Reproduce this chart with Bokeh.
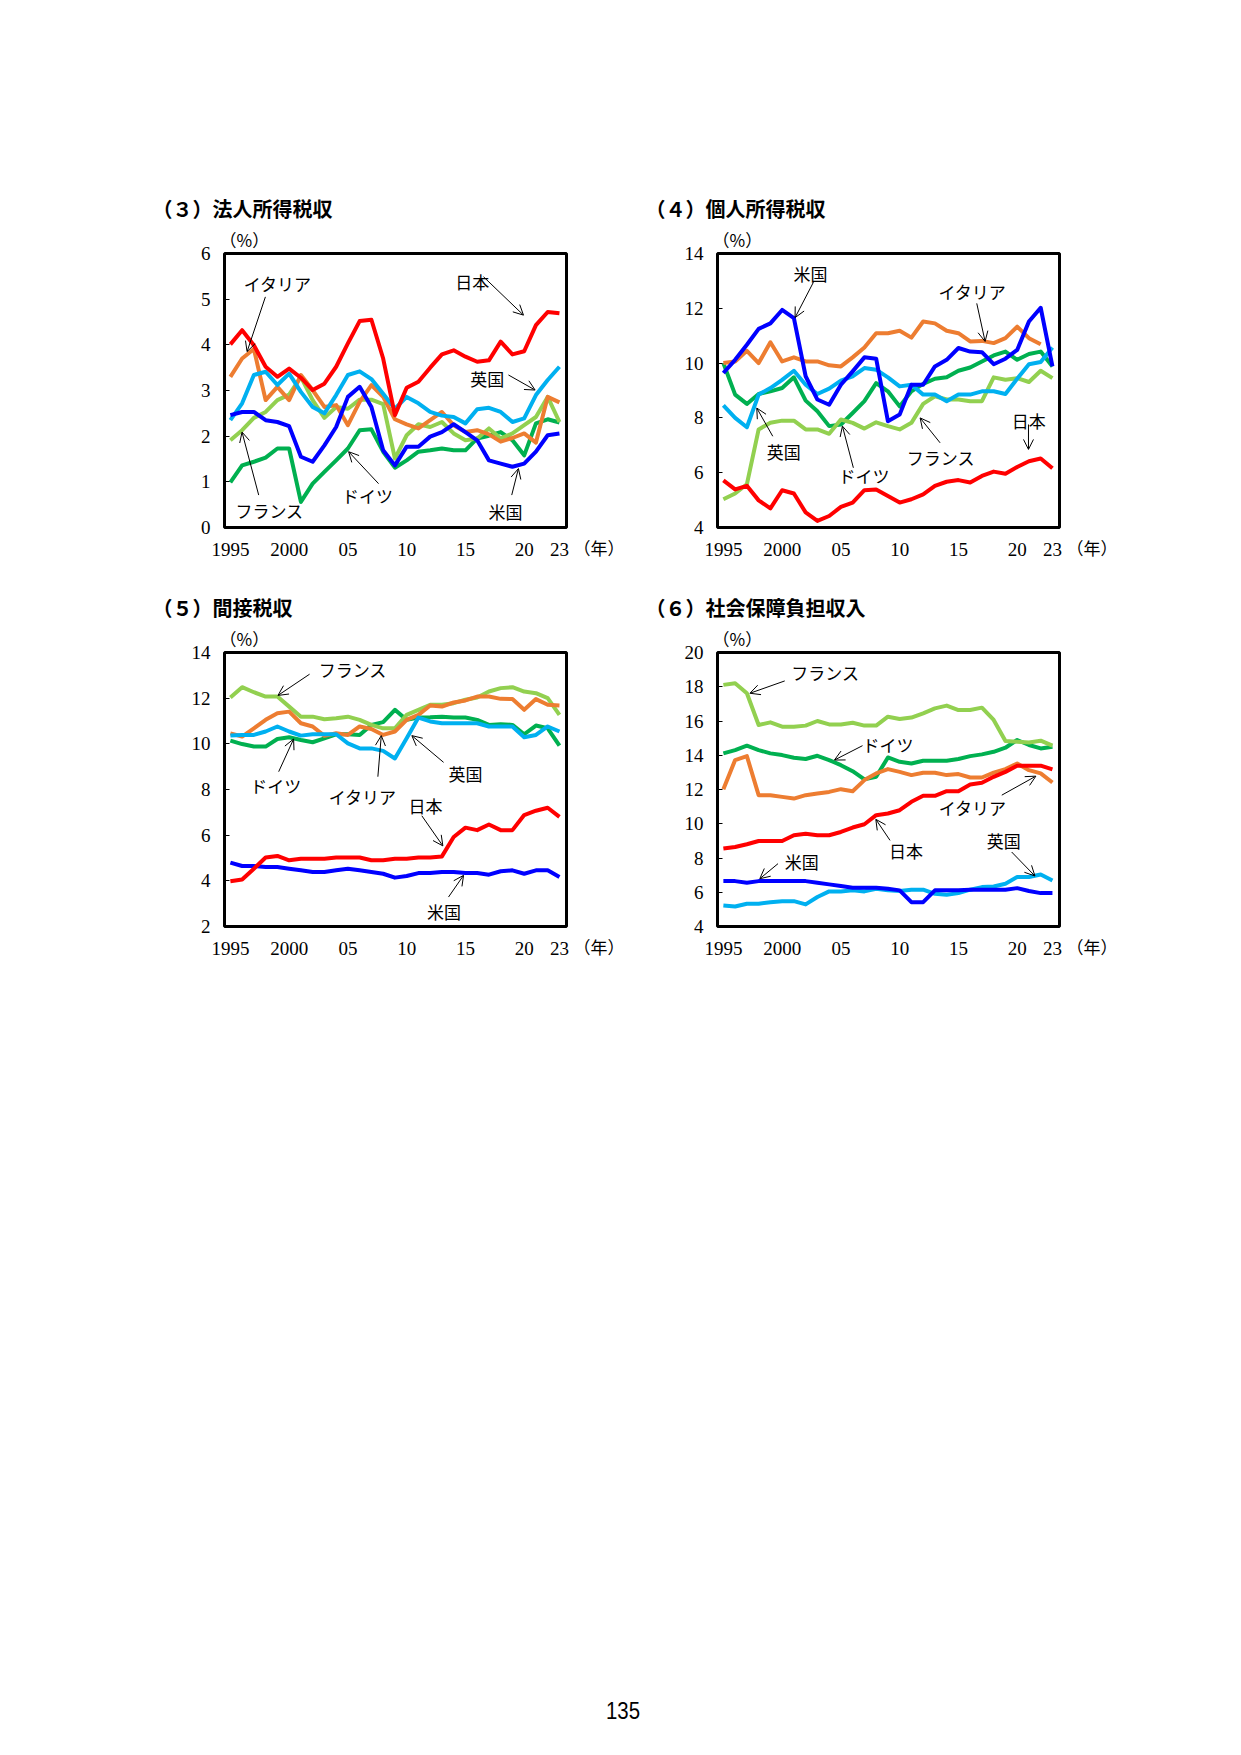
from bokeh.plotting import figure
from bokeh.models import Range1d, FixedTicker, Label, Arrow, OpenHead, Spacer, Div, Title, LinearAxis
from bokeh.layouts import row, column
from bokeh.embed import file_html
from bokeh.resources import INLINE

NAN = float("nan")
years = list(range(1995, 2024))
x_ticks = [1995, 2000, 2005, 2010, 2015, 2020, 2023]
x_tick_labels = ["1995", "2000", "05", "10", "15", "20", "23"]
countries = ["ドイツ", "フランス", "イタリア", "英国", "米国", "日本"]

# (3) 法人所得税収
corp_jp = [4.01, 4.32, 3.99, 3.52, 3.30, 3.48, 3.28, 3.01, 3.15, 3.52, 4.03, 4.52, 4.55, 3.70, 2.46,
           3.06, 3.19, 3.50, 3.79, 3.88, 3.74, 3.63, 3.66, 4.07, 3.79, 3.86, 4.43, 4.72, 4.69]
corp_us = [2.46, 2.53, 2.53, 2.35, 2.31, 2.22, 1.55, 1.44, 1.80, 2.20, 2.86, 3.08, 2.64, 1.69, 1.36,
           1.77, 1.77, 1.99, 2.09, 2.26, 2.09, 1.91, 1.47, 1.40, 1.33, 1.40, 1.66, 2.02, 2.06]
corp_uk = [2.35, 2.72, 3.34, 3.41, 3.12, 3.37, 2.97, 2.64, 2.50, 2.90, 3.34, 3.42, 3.25, 2.93, 2.60,
           2.86, 2.72, 2.53, 2.45, 2.42, 2.28, 2.59, 2.62, 2.53, 2.31, 2.39, 2.90, 3.23, 3.52]
corp_it = [3.30, 3.70, 3.91, 2.79, 3.08, 2.79, 3.34, 3.01, 2.64, 2.68, 2.24, 2.75, 3.12, 2.86, 2.37,
           2.26, 2.17, 2.35, 2.53, 2.24, 2.09, 2.13, 2.04, 1.88, 1.96, 2.06, 1.86, 2.86, 2.74]
corp_fr = [1.91, 2.13, 2.40, 2.53, 2.79, 2.91, 3.30, 2.79, 2.40, 2.64, 2.60, 2.80, 2.80, 2.70, 1.51,
           2.02, 2.26, 2.20, 2.31, 2.06, 1.91, 1.95, 2.17, 1.95, 2.06, 2.24, 2.42, 2.86, 2.31]
corp_de = [0.99, 1.36, 1.44, 1.53, 1.73, 1.73, 0.56, 0.96, 1.22, 1.47, 1.73, 2.13, 2.15, 1.66, 1.31,
           1.47, 1.66, 1.69, 1.73, 1.69, 1.69, 1.95, 2.01, 2.09, 1.91, 1.58, 2.28, 2.37, 2.30]

# (4) 個人所得税収
inc_jp = [5.72, 5.39, 5.52, 4.99, 4.70, 5.36, 5.24, 4.55, 4.24, 4.42, 4.75, 4.91, 5.36, 5.39, 5.15,
          4.91, 5.03, 5.21, 5.52, 5.67, 5.73, 5.64, 5.88, 6.04, 5.96, 6.21, 6.42, 6.52, 6.16]
inc_us = [9.64, 10.12, 10.67, 11.25, 11.45, 11.94, 11.64, 9.52, 8.67, 8.48, 9.21, 9.70, 10.21, 10.16, 7.88,
          8.12, 9.21, 9.21, 9.88, 10.12, 10.55, 10.42, 10.40, 9.96, 10.16, 10.48, 11.52, 12.02, 9.88]
inc_it = [10.00, 10.06, 10.45, 10.00, 10.76, 10.06, 10.21, 10.06, 10.06, 9.92, 9.88, 10.21, 10.57, 11.09, 11.09,
          11.18, 10.93, 11.52, 11.45, 11.18, 11.09, 10.79, 10.81, 10.73, 10.91, 11.33, 10.91, 10.69, NAN]
inc_uk = [8.46, 8.00, 7.66, 8.85, 9.09, 9.39, 9.72, 9.21, 8.87, 9.07, 9.36, 9.52, 9.82, 9.76, 9.48,
          9.15, 9.21, 8.85, 8.85, 8.61, 8.85, 8.85, 8.97, 8.97, 8.87, 9.43, 9.96, 10.04, 10.57]
inc_de = [10.00, 8.85, 8.51, 8.87, 8.97, 9.09, 9.48, 8.63, 8.24, 7.70, 7.76, 8.18, 8.61, 9.27, 8.97,
          8.42, 8.97, 9.24, 9.43, 9.48, 9.72, 9.84, 10.06, 10.28, 10.42, 10.12, 10.33, 10.42, 9.88]
inc_fr = [5.03, 5.24, 5.58, 7.58, 7.82, 7.90, 7.90, 7.58, 7.58, 7.42, 7.94, 7.82, 7.61, 7.84, 7.70,
          7.58, 7.82, 8.51, 8.79, 8.67, 8.67, 8.61, 8.61, 9.48, 9.39, 9.45, 9.31, 9.72, 9.45]

# (5) 間接税収
ind_jp = [3.98, 4.06, 4.53, 5.02, 5.09, 4.90, 4.97, 4.97, 4.97, 5.02, 5.02, 5.02, 4.90, 4.90, 4.97,
          4.97, 5.02, 5.02, 5.07, 5.92, 6.33, 6.22, 6.47, 6.22, 6.22, 6.88, 7.07, 7.20, 6.80]
ind_us = [4.80, 4.65, 4.65, 4.61, 4.61, 4.53, 4.46, 4.39, 4.39, 4.46, 4.53, 4.46, 4.39, 4.31, 4.14,
          4.21, 4.34, 4.34, 4.39, 4.39, 4.34, 4.34, 4.27, 4.42, 4.46, 4.31, 4.46, 4.46, 4.17]
ind_uk = [10.36, 10.39, 10.39, 10.54, 10.76, 10.54, 10.36, 10.42, 10.42, 10.42, 10.02, 9.80, 9.80, 9.69, 9.36,
          10.24, 11.15, 10.98, 10.90, 10.90, 10.90, 10.90, 10.76, 10.76, 10.76, 10.29, 10.39, 10.76, 10.54]
ind_it = [10.46, 10.32, 10.68, 11.05, 11.34, 11.41, 10.90, 10.76, 10.35, 10.46, 10.39, 10.76, 10.65, 10.39, 10.54,
          11.05, 11.27, 11.68, 11.63, 11.81, 11.90, 12.07, 12.07, 11.97, 11.96, 11.49, 11.96, 11.71, 11.68]
ind_fr = [12.03, 12.48, 12.26, 12.07, 12.07, 11.63, 11.19, 11.19, 11.08, 11.12, 11.19, 11.05, 10.83, 10.68, 10.68,
          11.27, 11.49, 11.71, 11.71, 11.78, 11.93, 12.03, 12.29, 12.44, 12.48, 12.29, 12.22, 12.00, 11.27]
ind_de = [10.14, 9.99, 9.88, 9.88, 10.21, 10.29, 10.17, 10.07, 10.24, 10.42, 10.42, 10.39, 10.83, 10.95, 11.49,
          11.05, 11.15, 11.16, 11.19, 11.15, 11.15, 11.05, 10.83, 10.86, 10.83, 10.42, 10.80, 10.68, 9.92]

# (6) 社会保障負担収入
ss_jp = [8.55, 8.64, 8.80, 8.99, 8.99, 8.99, 9.33, 9.42, 9.33, 9.33, 9.52, 9.78, 9.97, 10.50, 10.60,
         10.79, 11.28, 11.63, 11.63, 11.90, 11.90, 12.29, 12.39, 12.74, 13.03, 13.39, 13.39, 13.39, 13.17]
ss_us = [6.65, 6.65, 6.56, 6.65, 6.65, 6.65, 6.65, 6.65, 6.56, 6.46, 6.36, 6.26, 6.26, 6.26, 6.20,
         6.11, 5.42, 5.42, 6.11, 6.11, 6.11, 6.15, 6.15, 6.15, 6.15, 6.24, 6.07, 5.95, 5.95]
ss_uk = [5.23, 5.17, 5.33, 5.33, 5.42, 5.48, 5.48, 5.29, 5.72, 6.05, 6.05, 6.11, 6.05, 6.20, 6.11,
         6.07, 6.15, 6.15, 5.91, 5.85, 5.95, 6.15, 6.30, 6.34, 6.50, 6.89, 6.89, 7.04, 6.69]
ss_it = [12.02, 13.72, 13.95, 11.67, 11.67, 11.57, 11.47, 11.67, 11.77, 11.86, 12.02, 11.90, 12.55, 12.94, 13.19,
         13.03, 12.84, 12.98, 12.98, 12.84, 12.90, 12.70, 12.70, 12.98, 13.19, 13.52, 13.13, 12.94, 12.41]
ss_fr = [18.11, 18.20, 17.62, 15.77, 15.92, 15.67, 15.67, 15.73, 16.00, 15.80, 15.80, 15.90, 15.73, 15.73, 16.25,
         16.12, 16.20, 16.45, 16.74, 16.90, 16.64, 16.64, 16.78, 16.06, 14.83, 14.79, 14.75, 14.85, 14.56]
ss_de = [14.11, 14.30, 14.56, 14.30, 14.11, 14.01, 13.85, 13.78, 13.97, 13.72, 13.42, 13.07, 12.59, 12.74, 13.87,
         13.62, 13.52, 13.68, 13.68, 13.68, 13.78, 13.95, 14.05, 14.20, 14.44, 14.89, 14.60, 14.40, 14.50]

COLORS = {"日本": "#FF0000", "米国": "#0000FF", "英国": "#00B0F0",
          "イタリア": "#ED7D31", "フランス": "#92D050", "ドイツ": "#00B050"}

SERIF = "Liberation Serif"
JP = "Noto Sans CJK JP"
FW, FH = 342, 274
XR = (1994.5, 2023.6)
TOP = 68


def make_panel(title, ymin, ymax, ystep, series, notes, bottom):
    p = figure(width=74 + FW + 74, height=TOP + FH + bottom,
               x_range=Range1d(*XR), y_range=Range1d(ymin, ymax),
               output_backend="svg", toolbar_location=None, title=None,
               min_border_left=74, min_border_right=74,
               min_border_top=TOP, min_border_bottom=bottom)
    p.title = None
    p.background_fill_color = "white"
    p.border_fill_color = "white"
    p.outline_line_color = "black"
    p.outline_line_width = 3
    p.xgrid.visible = False
    p.ygrid.visible = False

    p.xaxis.ticker = FixedTicker(ticks=x_ticks)
    p.xaxis.major_label_overrides = {t: l for t, l in zip(x_ticks, x_tick_labels)}
    p.xaxis.major_tick_line_color = None
    p.xaxis.minor_tick_line_color = None
    p.xaxis.axis_line_color = None
    p.xaxis.major_label_standoff = 9
    p.yaxis.ticker = FixedTicker(ticks=list(range(ymin, ymax + 1, ystep)))
    p.yaxis.major_tick_in = 5
    p.yaxis.major_tick_out = 0
    p.yaxis.minor_tick_line_color = None
    p.yaxis.axis_line_color = None
    p.yaxis.major_label_standoff = 14
    for ax in (p.xaxis, p.yaxis):
        ax.major_label_text_font = SERIF
        ax.major_label_text_font_size = "19px"
        ax.major_label_text_color = "black"

    # "(年)" unit label: auxiliary right axis with a single tick at the bottom edge
    p.extra_y_ranges = {"unit": Range1d(0, 1)}
    unit_axis = LinearAxis(y_range_name="unit", ticker=FixedTicker(ticks=[0]),
                           major_label_overrides={0: " \n（年）"},
                           major_label_text_baseline="top",
                           major_label_text_line_height=1.6,
                           major_tick_line_color=None, minor_tick_line_color=None,
                           axis_line_color=None, major_label_standoff=1,
                           major_label_text_font=JP, major_label_text_font_size="17px",
                           major_label_text_color="black")
    p.add_layout(unit_axis, "right")

    for name in countries:
        p.line(years, series[name], line_color=COLORS[name], line_width=4, line_join="round")

    for text, tx, ty, (ax0, ay0, ax1, ay1) in notes:
        p.add_layout(Label(x=tx, y=ty, text=text, text_font=JP, text_font_size="17px",
                           text_baseline="middle", text_align="left", text_color="black"))
        p.add_layout(Arrow(x_start=ax0, y_start=ay0, x_end=ax1, y_end=ay1,
                           line_width=1, line_color="black",
                           end=OpenHead(size=10, line_width=1, line_color="black")))

    p.add_layout(Title(text="（%）", align="left", offset=-5, standoff=4,
                       text_font=JP, text_font_size="17px", text_font_style="normal",
                       text_color="black"), "above")
    p.add_layout(Title(text=title, align="left", offset=-72, standoff=0,
                       text_font=JP, text_font_size="20px", text_font_style="bold",
                       text_color="black"), "above")
    return p


p3 = make_panel("（３）法人所得税収", 0, 6, 1,
                {"日本": corp_jp, "米国": corp_us, "英国": corp_uk, "イタリア": corp_it,
                 "フランス": corp_fr, "ドイツ": corp_de},
                [("イタリア", 1996.13, 5.34, (1997.98, 5.05, 1996.42, 3.85)),
                 ("日本", 2014.13, 5.39, (2016.54, 5.49, 2019.94, 4.65)),
                 ("英国", 2015.40, 3.26, (2018.66, 3.34, 2020.93, 3.01)),
                 ("米国", 2016.96, 0.36, (2018.94, 0.71, 2019.51, 1.29)),
                 ("ドイツ", 2004.49, 0.71, (2007.61, 0.96, 2005.06, 1.66)),
                 ("フランス", 1995.43, 0.38, (1997.41, 0.71, 1995.99, 2.09))],
                43)
p4 = make_panel("（４）個人所得税収", 4, 14, 2,
                {"日本": inc_jp, "米国": inc_us, "英国": inc_uk, "イタリア": inc_it,
                 "フランス": inc_fr, "ドイツ": inc_de},
                [("米国", 2000.96, 13.27, (2002.66, 12.95, 2001.10, 11.66)),
                 ("イタリア", 2013.30, 12.63, (2016.56, 12.18, 2017.27, 10.79)),
                 ("日本", 2019.54, 7.90, (2020.96, 7.76, 2020.96, 6.85)),
                 ("英国", 1998.69, 6.79, (1999.20, 7.33, 1997.84, 8.36)),
                 ("ドイツ", 2004.79, 5.90, (2006.06, 6.18, 2005.13, 7.70)),
                 ("フランス", 2010.60, 6.57, (2013.44, 7.09, 2011.74, 8.00))],
                43)
p5 = make_panel("（５）間接税収", 2, 14, 2,
                {"日本": ind_jp, "米国": ind_us, "英国": ind_uk, "イタリア": ind_it,
                 "フランス": ind_fr, "ドイツ": ind_de},
                [("フランス", 2002.51, 13.24, (2001.74, 13.05, 1999.05, 12.12)),
                 ("ドイツ", 1996.70, 8.16, (1999.11, 8.78, 2000.38, 10.21)),
                 ("イタリア", 2003.36, 7.68, (2007.55, 8.56, 2007.84, 10.36)),
                 ("日本", 2010.16, 7.31, (2011.29, 6.85, 2013.08, 5.53)),
                 ("英国", 2013.56, 8.71, (2013.14, 9.19, 2010.44, 10.36)),
                 ("米国", 2011.72, 2.66, (2013.56, 3.29, 2014.84, 4.24))],
                44)
p6 = make_panel("（６）社会保障負担収入", 4, 20, 2,
                {"日本": ss_jp, "米国": ss_us, "英国": ss_uk, "イタリア": ss_it,
                 "フランス": ss_fr, "ドイツ": ss_de},
                [("フランス", 2000.78, 18.83, (2000.22, 18.34, 1997.26, 17.62)),
                 ("ドイツ", 2006.84, 14.60, (2006.84, 14.56, 2004.45, 13.72)),
                 ("イタリア", 2013.33, 10.93, (2018.69, 11.67, 2021.59, 12.78)),
                 ("日本", 2009.10, 8.45, (2009.18, 9.03, 2007.97, 10.26)),
                 ("英国", 2017.42, 9.03, (2019.53, 8.35, 2021.51, 6.95)),
                 ("米国", 2000.22, 7.80, (1999.65, 7.67, 1998.10, 6.79))],
                44)

page_no = Div(text="135", width=60, height=32,
              styles={"font-family": "Liberation Sans", "font-size": "24px",
                      "line-height": "32px", "color": "black",
                      "transform": "scaleX(0.85)", "transform-origin": "left center"})

layout = column(
    Spacer(width=10, height=253 - TOP),
    row(Spacer(width=150, height=10), p3, Spacer(width=3, height=10), p4),
    Spacer(width=10, height=652 - TOP - (253 + FH + 43)),
    row(Spacer(width=150, height=10), p5, Spacer(width=3, height=10), p6),
    Spacer(width=10, height=720),
    row(Spacer(width=601, height=10), page_no),
)

with open("out.html", "w") as f:
    f.write(file_html(layout, INLINE))
